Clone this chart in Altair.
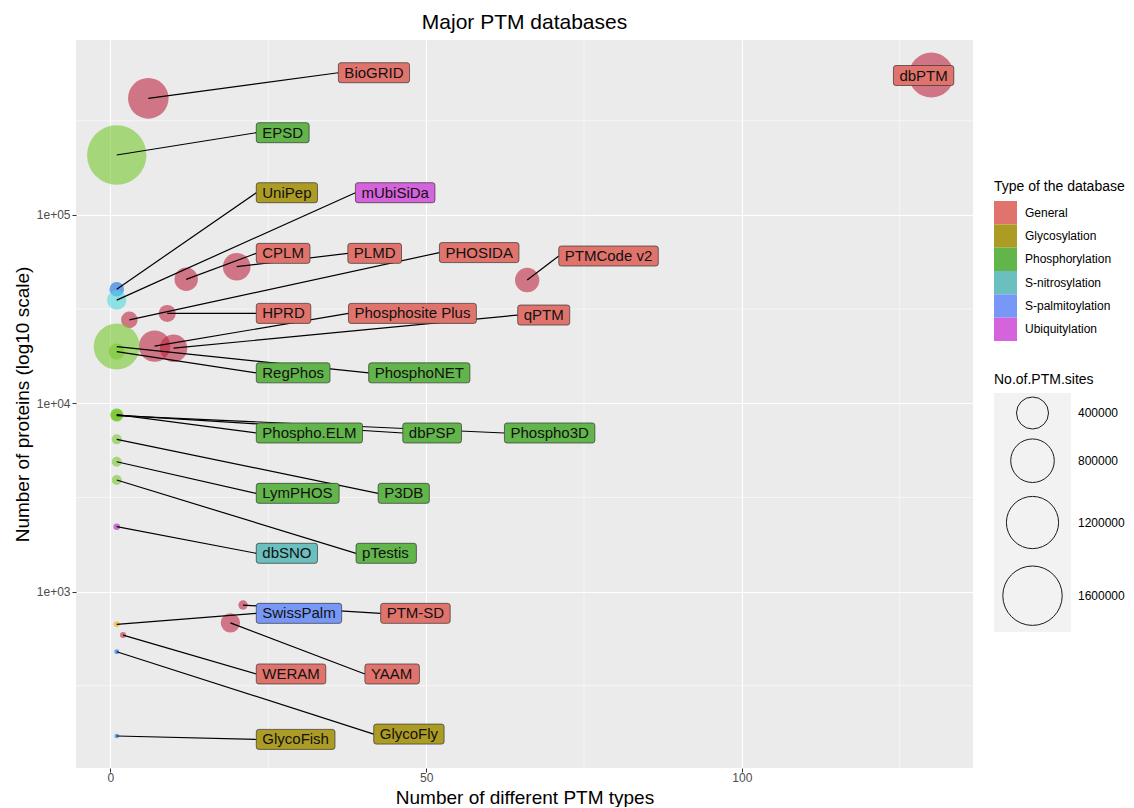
import altair as alt
import pandas as pd

FONT = "Liberation Sans, Arial, Helvetica, sans-serif"

# ---------------- data ----------------
names = ["BioGRID", "EPSD", "UniPep", "mUbiSiDa", "CPLM", "PLMD", "PHOSIDA", "PTMCode v2",
         "HPRD", "Phosphosite Plus", "qPTM", "RegPhos", "PhosphoNET", "Phospho.ELM", "dbPSP",
         "Phospho3D", "LymPHOS", "P3DB", "dbSNO", "pTestis", "SwissPalm", "PTM-SD", "WERAM",
         "YAAM", "GlycoFly", "GlycoFish", "dbPTM"]
db_type = ["General", "Phosphorylation", "Glycosylation", "Ubiquitylation", "General", "General",
           "General", "General", "General", "General", "General", "Phosphorylation",
           "Phosphorylation", "Phosphorylation", "Phosphorylation", "Phosphorylation",
           "Phosphorylation", "Phosphorylation", "S-nitrosylation", "Phosphorylation",
           "S-palmitoylation", "General", "General", "General", "Glycosylation", "Glycosylation",
           "General"]
point_group = ["General", "Phosphorylation", "S-palmitoylation", "S-nitrosylation", "General",
               "General", "General", "General", "General", "General", "General", "Phosphorylation",
               "Phosphorylation", "Phosphorylation", "Phosphorylation", "Phosphorylation",
               "Phosphorylation", "Phosphorylation", "Ubiquitylation", "Phosphorylation",
               "Glycosylation", "General", "General", "General", "S-palmitoylation",
               "S-palmitoylation", "General"]
ptm_types = [6, 1, 1, 1, 12, 20, 3, 66, 9, 7, 10, 1, 1, 1, 1, 1, 1, 1, 1, 1, 1, 21, 2, 19, 1, 1, 130]
proteins = [416000, 208000, 40300, 35300, 45500, 53100, 27700, 45100, 30000, 20100, 19600,
            18800, 20000, 8700, 8650, 8600, 4890, 6430, 2210, 3910, 670, 848, 587, 682, 479,
            171, 553000]
sites = [683000, 1600000, 64000, 127000, 196000, 286000, 87600, 216000, 92800, 383000, 281000,
         80000, 904000, 40000, 52000, 30000, 24000, 24000, 5900, 24000, 3800, 20000, 3800,
         127000, 840, 100, 861000]
label_x = [36.1, 23.1, 23.1, 38.8, 23.1, 37.6, 52.1, 71.0, 23.1, 37.7, 64.5, 23.1, 40.9, 23.1,
           46.3, 62.4, 23.1, 42.4, 23.1, 38.9, 23.1, 42.8, 23.1, 40.3, 41.7, 23.1, 124.0]
label_y = [569000, 273300, 131200, 131200, 62500, 62500, 63100, 60500, 30000, 30000, 29400,
           14500, 14500, 6950, 6950, 6950, 3323, 3323, 1596, 1596, 766, 766, 365, 365, 175,
           164, 550000]

types = ["General", "Glycosylation", "Phosphorylation", "S-nitrosylation", "S-palmitoylation",
         "Ubiquitylation"]
label_fill = ["#E0746C", "#AD9C24", "#62B54A", "#6BBFBF", "#7898F8", "#D563DC"]
point_fill = ["#BE2641", "#F3B100", "#76C82F", "#50D9E1", "#166CE6", "#B020C0"]
legend_sites = [400000, 800000, 1200000, 1600000]
minor_x = [25, 75, 125]
minor_y = [316.2, 3162, 31623, 316228]

# ---------------- label boxes (width from text metrics) ----------------
AFM = {"A": 667, "B": 667, "C": 722, "D": 722, "E": 667, "F": 611, "G": 778, "H": 722,
       "I": 278, "L": 556, "M": 833, "N": 722, "O": 778, "P": 667, "R": 722, "S": 667,
       "T": 611, "U": 722, "W": 944, "Y": 667, "a": 556, "b": 556, "c": 500, "d": 556,
       "e": 556, "f": 278, "g": 556, "h": 556, "i": 222, "l": 222, "m": 833, "n": 556,
       "o": 556, "p": 556, "q": 556, "s": 500, "t": 278, "u": 556, "v": 500, "w": 722,
       "y": 500, "2": 556, "3": 556, " ": 278, ".": 278, "-": 333}
LABEL_FS = 15
PAD = 6


def box_path(s):
    w = sum(AFM.get(c, 556) for c in s) * LABEL_FS / 1000 + 2 * PAD
    h, r = 10, 2.5
    f = lambda v: f"{v:.2f}"
    return (f"M{f(r)},{f(-h)} L{f(w - r)},{f(-h)} Q{f(w)},{f(-h)} {f(w)},{f(-h + r)} "
            f"L{f(w)},{f(h - r)} Q{f(w)},{f(h)} {f(w - r)},{f(h)} L{f(r)},{f(h)} "
            f"Q0,{f(h)} 0,{f(h - r)} L0,{f(-h + r)} Q0,{f(-h)} {f(r)},{f(-h)} Z")


df = pd.DataFrame({
    "name": names, "type": db_type, "pgroup": point_group, "ptm": ptm_types,
    "proteins": proteins, "sites": sites, "lx": label_x, "ly": label_y,
})
df["box"] = [box_path(n) for n in names]

# ---------------- scales / axes ----------------
X_TITLE = "Number of different PTM types"
Y_TITLE = "Number of proteins (log10 scale)"
PLOT_W, PLOT_H = 897, 728
xscale = alt.Scale(domain=[-5.45, 136.6], nice=False, zero=False)
yscale = alt.Scale(type="log", domain=[115.6, 849000], nice=False)
# Vega symbol size = area of bounding square
size_scale = alt.Scale(type="pow", exponent=0.903, domain=[0, 1600000], range=[21.1, 3528])
fill_scale = alt.Scale(domain=types, range=label_fill)
pfill_scale = alt.Scale(domain=types, range=point_fill)

axis_common = dict(grid=True, gridColor="white", gridWidth=1.1, domain=False, ticks=True,
                   tickColor="#333333", tickSize=4, tickWidth=1, labelColor="#4D4D4D",
                   labelFontSize=12, labelFont=FONT, titleFont=FONT, titleFontSize=19,
                   titleFontWeight="normal", titleColor="black")
xaxis = alt.Axis(values=[0, 50, 100], title=X_TITLE, titlePadding=5, labelPadding=0,
                 labelFlush=False, **axis_common)
yaxis = alt.Axis(values=[1000, 10000, 100000], title=Y_TITLE, titlePadding=4, labelPadding=2,
                 labelExpr="replace(format(datum.value, '.0e'), 'e+', 'e+0')", **axis_common)

# ---------------- main panel ----------------
gx = alt.Chart(pd.DataFrame({"v": minor_x})).mark_rule(color="white", strokeWidth=0.55).encode(
    x=alt.X("v:Q", scale=xscale, axis=xaxis, title=X_TITLE))
gy = alt.Chart(pd.DataFrame({"v": minor_y})).mark_rule(color="white", strokeWidth=0.55).encode(
    y=alt.Y("v:Q", scale=yscale, axis=yaxis, title=Y_TITLE))

base = alt.Chart(df)
points = base.mark_circle(opacity=0.6).encode(
    x=alt.X("ptm:Q", scale=xscale, title=X_TITLE),
    y=alt.Y("proteins:Q", scale=yscale, title=Y_TITLE),
    size=alt.Size("sites:Q", scale=size_scale, legend=None),
    color=alt.Color("pgroup:N", scale=pfill_scale, legend=None),
)
segs = base.mark_rule(color="black", strokeWidth=1.2).encode(
    x=alt.X("ptm:Q", scale=xscale, title=X_TITLE),
    y=alt.Y("proteins:Q", scale=yscale, title=Y_TITLE),
    x2="lx:Q", y2="ly:Q",
)
boxes = base.mark_point(filled=True, opacity=1, stroke="#333333", strokeWidth=0.7).encode(
    x=alt.X("lx:Q", scale=xscale, title=X_TITLE),
    y=alt.Y("ly:Q", scale=yscale, title=Y_TITLE),
    shape=alt.Shape("box:N", scale=None),
    size=alt.value(4),
    fill=alt.Fill("type:N", scale=fill_scale, legend=None),
)
texts = base.mark_text(align="left", baseline="middle", dx=PAD, fontSize=LABEL_FS, font=FONT,
                       color="#111111").encode(
    x=alt.X("lx:Q", scale=xscale, title=X_TITLE),
    y=alt.Y("ly:Q", scale=yscale, title=Y_TITLE),
    text="name:N",
)

main = alt.layer(gx, gy, points, segs, boxes, texts).properties(
    width=PLOT_W, height=PLOT_H,
    title=alt.Title("Major PTM databases", fontSize=21, font=FONT, fontWeight="normal",
                    color="black", anchor="middle", frame="group", offset=7),
    view=alt.ViewBackground(fill="#EBEBEB", stroke=None),
)

# ---------------- legend panel ----------------
tdf = pd.DataFrame({"type": types})
band = alt.Scale(domain=types, range=[161, 301], paddingInner=0, paddingOuter=0)
key_rects = alt.Chart(tdf).mark_rect().encode(
    x=alt.value(0), x2=alt.value(23),
    y=alt.Y("type:N", scale=band, axis=None),
    fill=alt.Fill("type:N", scale=fill_scale, legend=None),
)
key_labels = alt.Chart(tdf).mark_text(align="left", baseline="middle", fontSize=12, font=FONT,
                                      color="black").encode(
    x=alt.value(31), y=alt.Y("type:N", scale=band, axis=None), text="type:N")

one = pd.DataFrame({"t": ["Type of the database", "No.of.PTM.sites"], "k": [0, 1]})
title1 = alt.Chart(one).transform_filter("datum.k == 0").mark_text(
    align="left", baseline="middle", fontSize=14, font=FONT, color="black").encode(
    x=alt.value(0), y=alt.value(147), text="t:N")
title2 = alt.Chart(one).transform_filter("datum.k == 1").mark_text(
    align="left", baseline="middle", fontSize=14, font=FONT, color="black").encode(
    x=alt.value(0), y=alt.value(340), text="t:N")
bg = alt.Chart(one).transform_filter("datum.k == 1").mark_rect(color="#F2F2F2").encode(
    x=alt.value(0), x2=alt.value(77), y=alt.value(353), y2=alt.value(592))

sdf = pd.DataFrame({"sites": legend_sites})
ypos = alt.Scale(type="pow", exponent=1.5, domain=[0, 1600000], range=[346.9, 555.7])
circles = alt.Chart(sdf).mark_point(shape="circle", filled=False, color="#1A1A1A",
                                    strokeWidth=1, opacity=1).encode(
    x=alt.value(38.5),
    y=alt.Y("sites:Q", scale=ypos, axis=None),
    size=alt.Size("sites:Q", scale=size_scale, legend=None),
)
size_labels = alt.Chart(sdf).mark_text(align="left", baseline="middle", fontSize=12, font=FONT,
                                       color="black").encode(
    x=alt.value(84), y=alt.Y("sites:Q", scale=ypos, axis=None),
    text=alt.Text("sites:Q", format="d"))

legend = alt.layer(key_rects, key_labels, title1, title2, bg, circles, size_labels).resolve_scale(
    y="independent").properties(width=130, height=PLOT_H)

chart = alt.hconcat(main, legend, spacing=21, bounds="flush").resolve_scale(
    x="independent", y="independent", size="independent", color="independent",
    fill="independent",
).properties(
    padding={"left": 5, "top": 3, "right": 0, "bottom": 0},
    background="white",
).configure_view(stroke=None)

chart.save("out.html", embed_options={"renderer": "svg", "actions": False})
